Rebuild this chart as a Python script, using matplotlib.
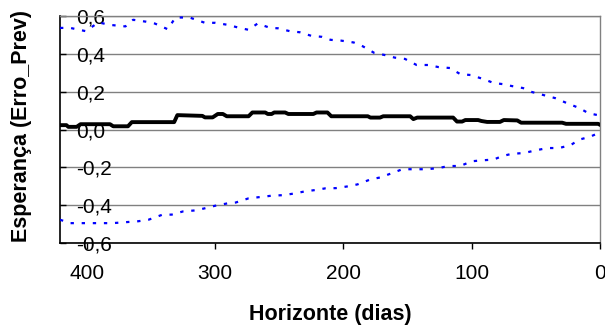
import matplotlib
matplotlib.use("Agg")
import matplotlib.pyplot as plt

# Dados (horizonte em dias, valor)
dias_sup = [421, 413, 401, 391, 382, 370, 364, 354, 347, 337, 331, 320, 308, 300,
            290, 281, 274, 267, 257, 251, 242, 234, 225, 217, 210, 202, 192, 185,
            176, 168, 160, 152, 143, 134, 126, 117, 109, 101, 91, 83, 76, 69, 60,
            53, 44, 35, 26, 16, 9, 1]
lim_sup = [0.537, 0.537, 0.52, 0.566, 0.553, 0.545, 0.58, 0.57, 0.56, 0.53, 0.592,
           0.592, 0.564, 0.564, 0.553, 0.537, 0.527, 0.56, 0.537, 0.535, 0.52, 0.514,
           0.495, 0.49, 0.474, 0.47, 0.46, 0.44, 0.405, 0.394, 0.38, 0.373, 0.341,
           0.341, 0.33, 0.325, 0.293, 0.288, 0.267, 0.246, 0.24, 0.23, 0.219, 0.198,
           0.182, 0.166, 0.14, 0.113, 0.086, 0.075]

dias_inf = [421, 413, 401, 390, 380, 370, 360, 352, 341, 334, 325, 316, 309, 300,
            290, 284, 274, 265, 256, 247, 238, 230, 222, 214, 206, 196, 189, 179,
            171, 162, 154, 135, 126, 118, 109, 100, 92, 83, 76, 69, 59, 50, 41, 32,
            23, 16, 8, 1]
lim_inf = [-0.477, -0.495, -0.495, -0.495, -0.495, -0.49, -0.485, -0.477, -0.45,
           -0.45, -0.433, -0.428, -0.418, -0.403, -0.39, -0.386, -0.364, -0.357,
           -0.35, -0.347, -0.338, -0.327, -0.32, -0.311, -0.31, -0.30, -0.29,
           -0.264, -0.253, -0.23, -0.21, -0.21, -0.204, -0.193, -0.193, -0.168,
           -0.163, -0.159, -0.14, -0.129, -0.124, -0.11, -0.098, -0.098, -0.083,
           -0.053, -0.039, -0.018]

dias_media = [421, 416, 414.5, 408, 405, 382, 379.5, 368, 365, 332, 329.5, 310,
              308, 302, 298, 294, 291, 274, 271, 261, 259, 256, 254, 245.5, 243,
              223.5, 221, 212.5, 209.5, 181, 179, 171.5, 169, 148, 145.5, 142.5,
              114.5, 111.5, 107.5, 105, 95, 92.5, 88, 78, 75, 64.5, 61.5, 29.5,
              26.5, 1.5, 0]
media = [0.023, 0.023, 0.014, 0.014, 0.028, 0.028, 0.017, 0.017, 0.039, 0.039,
         0.076, 0.072, 0.064, 0.064, 0.082, 0.082, 0.07, 0.07, 0.09, 0.09, 0.082,
         0.082, 0.09, 0.09, 0.082, 0.082, 0.09, 0.09, 0.07, 0.07, 0.063, 0.063,
         0.07, 0.07, 0.055, 0.063, 0.063, 0.042, 0.042, 0.05, 0.05, 0.045, 0.04,
         0.04, 0.05, 0.048, 0.036, 0.036, 0.03, 0.03, 0.025]

yticks = [-0.6, -0.4, -0.2, 0.0, 0.2, 0.4, 0.6]
ytick_labels = ["-0,6", "-0,4", "-0,2", "0,0", "0,2", "0,4", "0,6"]
xticks = [400, 300, 200, 100, 0]

plt.rcParams['font.family'] = ['Liberation Sans', 'DejaVu Sans']

fig = plt.figure(figsize=(6.05, 3.29), dpi=100)
ax = fig.add_axes([60/605, 1 - 243/329, 540/605, 227/329])

ax.set_ylim(-0.6, 0.6)
ax.set_xlim(421, 0)

for y in yticks:
    ax.axhline(y, color='#808080', lw=1.0, zorder=1)

ax.plot(dias_sup, lim_sup, color='#0000FF', lw=1.6, dashes=(1.5, 3.5), zorder=3)
ax.plot(dias_inf, lim_inf, color='#0000FF', lw=1.6, dashes=(1.5, 3.5), zorder=3)
ax.plot(dias_media, media, color='black', lw=2.8, zorder=4)

ax.set_yticks(yticks)
ax.set_yticklabels(ytick_labels, ha='left')
ax.tick_params(axis='y', direction='in', length=4, width=1, pad=-11.5,
               labelsize=15)
ax.set_xticks(xticks)
ax.tick_params(axis='x', direction='out', length=4.5, width=1, pad=10.5,
               labelsize=15)

for s in ['top', 'right']:
    ax.spines[s].set_color('#808080')
    ax.spines[s].set_linewidth(1.0)
for s in ['left', 'bottom']:
    ax.spines[s].set_color('black')
    ax.spines[s].set_linewidth(1.2)

ax.set_xlabel('Horizonte (dias)', fontsize=15.5, fontweight='bold', labelpad=15)
ax.set_ylabel('Esperança (Erro_Prev)', fontsize=15.5, fontweight='bold')
ax.yaxis.set_label_coords(-0.052, 0.515)

fig.savefig('out.png', dpi=100)
